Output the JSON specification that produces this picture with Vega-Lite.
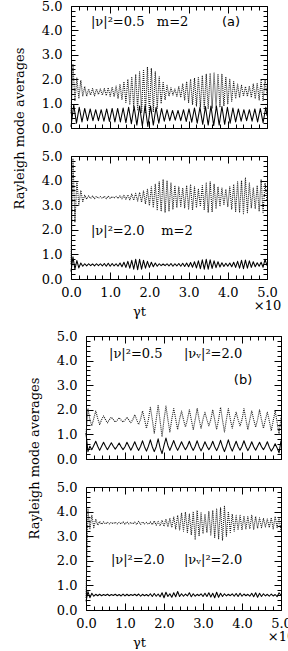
{
"$schema":"https://vega.github.io/schema/vega-lite/v6.json",
"autosize":{"type":"pad"},
"padding":{"left":13,"top":0,"right":0,"bottom":0},
"config":{"view":{"stroke":null},"font":"DejaVu Serif","axis":{"domainColor":"black","tickColor":"black","labelColor":"black","titleColor":"black","labelFont":"DejaVu Serif","titleFont":"DejaVu Serif","labelFontSize":13,"titleFontSize":13,"titleFontWeight":"normal","grid":false,"tickWidth":1,"domainWidth":1,"labelOverlap":false,"labelFlush":false,"labelBound":false},"text":{"font":"DejaVu Serif","fontSize":13,"color":"black"},"line":{"strokeJoin":"round"}},
"datasets":{
"a1":[{"t":0,"v":0.6},{"t":0.05,"v":2.6},{"t":0.1,"v":1.1},{"t":0.15,"v":2.05},{"t":0.2,"v":1.2},{"t":0.25,"v":1.95},{"t":0.3,"v":1.3},{"t":0.35,"v":1.7},{"t":0.4,"v":1.3},{"t":0.45,"v":1.6},{"t":0.5,"v":1.35},{"t":0.55,"v":1.62},{"t":0.6,"v":1.32},{"t":0.65,"v":1.6},{"t":0.7,"v":1.38},{"t":0.75,"v":1.6},{"t":0.8,"v":1.35},{"t":0.85,"v":1.62},{"t":0.9,"v":1.33},{"t":0.95,"v":1.65},{"t":1,"v":1.3},{"t":1.05,"v":1.68},{"t":1.1,"v":1.28},{"t":1.15,"v":1.72},{"t":1.2,"v":1.22},{"t":1.25,"v":1.8},{"t":1.3,"v":1.15},{"t":1.35,"v":1.9},{"t":1.4,"v":1.05},{"t":1.45,"v":2.0},{"t":1.5,"v":0.95},{"t":1.55,"v":2.1},{"t":1.6,"v":0.85},{"t":1.65,"v":2.2},{"t":1.7,"v":0.75},{"t":1.75,"v":2.3},{"t":1.8,"v":0.65},{"t":1.85,"v":2.4},{"t":1.9,"v":0.6},{"t":1.95,"v":2.5},{"t":2,"v":0.55},{"t":2.05,"v":2.45},{"t":2.1,"v":0.65},{"t":2.15,"v":2.3},{"t":2.2,"v":0.8},{"t":2.25,"v":2.1},{"t":2.3,"v":1.0},{"t":2.35,"v":1.9},{"t":2.4,"v":1.15},{"t":2.45,"v":1.75},{"t":2.5,"v":1.3},{"t":2.55,"v":1.65},{"t":2.6,"v":1.35},{"t":2.65,"v":1.6},{"t":2.7,"v":1.3},{"t":2.75,"v":1.7},{"t":2.8,"v":1.25},{"t":2.85,"v":1.8},{"t":2.9,"v":1.15},{"t":2.95,"v":1.9},{"t":3,"v":1.05},{"t":3.05,"v":2.0},{"t":3.1,"v":0.95},{"t":3.15,"v":2.05},{"t":3.2,"v":0.9},{"t":3.25,"v":2.1},{"t":3.3,"v":0.85},{"t":3.35,"v":2.15},{"t":3.4,"v":0.8},{"t":3.45,"v":2.2},{"t":3.5,"v":0.78},{"t":3.55,"v":2.25},{"t":3.6,"v":0.8},{"t":3.65,"v":2.25},{"t":3.7,"v":0.82},{"t":3.75,"v":2.22},{"t":3.8,"v":0.85},{"t":3.85,"v":2.2},{"t":3.9,"v":0.9},{"t":3.95,"v":2.1},{"t":4,"v":1.0},{"t":4.05,"v":2.0},{"t":4.1,"v":1.1},{"t":4.15,"v":1.9},{"t":4.2,"v":1.2},{"t":4.25,"v":1.8},{"t":4.3,"v":1.25},{"t":4.35,"v":1.75},{"t":4.4,"v":1.3},{"t":4.45,"v":1.7},{"t":4.5,"v":1.3},{"t":4.55,"v":1.72},{"t":4.6,"v":1.25},{"t":4.65,"v":1.8},{"t":4.7,"v":1.2},{"t":4.75,"v":1.85},{"t":4.8,"v":1.15},{"t":4.85,"v":1.95},{"t":4.9,"v":1.1},{"t":4.95,"v":2.0},{"t":5,"v":1.3}],
"a2":[{"t":0,"v":0.05},{"t":0.07,"v":0.95},{"t":0.14,"v":0.2},{"t":0.21,"v":0.85},{"t":0.28,"v":0.25},{"t":0.35,"v":0.8},{"t":0.42,"v":0.3},{"t":0.49,"v":0.78},{"t":0.56,"v":0.3},{"t":0.63,"v":0.75},{"t":0.7,"v":0.3},{"t":0.77,"v":0.75},{"t":0.84,"v":0.28},{"t":0.91,"v":0.78},{"t":0.98,"v":0.27},{"t":1.05,"v":0.8},{"t":1.12,"v":0.25},{"t":1.19,"v":0.8},{"t":1.26,"v":0.25},{"t":1.33,"v":0.82},{"t":1.4,"v":0.22},{"t":1.47,"v":0.85},{"t":1.54,"v":0.18},{"t":1.61,"v":0.88},{"t":1.68,"v":0.12},{"t":1.75,"v":0.9},{"t":1.82,"v":0.08},{"t":1.89,"v":0.92},{"t":1.96,"v":0.06},{"t":2.03,"v":0.9},{"t":2.1,"v":0.12},{"t":2.17,"v":0.85},{"t":2.24,"v":0.2},{"t":2.31,"v":0.8},{"t":2.38,"v":0.28},{"t":2.45,"v":0.75},{"t":2.52,"v":0.3},{"t":2.59,"v":0.72},{"t":2.66,"v":0.32},{"t":2.73,"v":0.72},{"t":2.8,"v":0.3},{"t":2.87,"v":0.75},{"t":2.94,"v":0.27},{"t":3.01,"v":0.78},{"t":3.08,"v":0.24},{"t":3.15,"v":0.82},{"t":3.22,"v":0.2},{"t":3.29,"v":0.85},{"t":3.36,"v":0.15},{"t":3.43,"v":0.88},{"t":3.5,"v":0.12},{"t":3.57,"v":0.9},{"t":3.64,"v":0.1},{"t":3.71,"v":0.9},{"t":3.78,"v":0.12},{"t":3.85,"v":0.88},{"t":3.92,"v":0.15},{"t":3.99,"v":0.85},{"t":4.06,"v":0.2},{"t":4.13,"v":0.82},{"t":4.2,"v":0.25},{"t":4.27,"v":0.78},{"t":4.34,"v":0.28},{"t":4.41,"v":0.75},{"t":4.48,"v":0.3},{"t":4.55,"v":0.75},{"t":4.62,"v":0.28},{"t":4.69,"v":0.78},{"t":4.76,"v":0.25},{"t":4.83,"v":0.8},{"t":4.9,"v":0.22},{"t":4.97,"v":0.85},{"t":5,"v":0.5}],
"b1":[{"t":0,"v":0.6},{"t":0.05,"v":4.9},{"t":0.1,"v":2.3},{"t":0.15,"v":4.0},{"t":0.2,"v":3.0},{"t":0.25,"v":3.6},{"t":0.3,"v":3.15},{"t":0.35,"v":3.4},{"t":0.4,"v":3.25},{"t":0.45,"v":3.38},{"t":0.5,"v":3.28},{"t":0.55,"v":3.37},{"t":0.6,"v":3.27},{"t":0.65,"v":3.36},{"t":0.7,"v":3.28},{"t":0.75,"v":3.35},{"t":0.8,"v":3.28},{"t":0.85,"v":3.36},{"t":0.9,"v":3.27},{"t":0.95,"v":3.37},{"t":1,"v":3.28},{"t":1.05,"v":3.35},{"t":1.1,"v":3.29},{"t":1.15,"v":3.36},{"t":1.2,"v":3.27},{"t":1.25,"v":3.38},{"t":1.3,"v":3.26},{"t":1.35,"v":3.4},{"t":1.4,"v":3.24},{"t":1.45,"v":3.42},{"t":1.5,"v":3.22},{"t":1.55,"v":3.45},{"t":1.6,"v":3.2},{"t":1.65,"v":3.48},{"t":1.7,"v":3.17},{"t":1.75,"v":3.52},{"t":1.8,"v":3.12},{"t":1.85,"v":3.58},{"t":1.9,"v":3.05},{"t":1.95,"v":3.65},{"t":2,"v":2.98},{"t":2.05,"v":3.75},{"t":2.1,"v":2.9},{"t":2.15,"v":3.85},{"t":2.2,"v":2.82},{"t":2.25,"v":3.95},{"t":2.3,"v":2.75},{"t":2.35,"v":4.05},{"t":2.4,"v":2.7},{"t":2.45,"v":4.0},{"t":2.5,"v":2.75},{"t":2.55,"v":3.9},{"t":2.6,"v":2.85},{"t":2.65,"v":3.8},{"t":2.7,"v":2.9},{"t":2.75,"v":3.75},{"t":2.8,"v":2.95},{"t":2.85,"v":3.7},{"t":2.9,"v":2.9},{"t":2.95,"v":3.8},{"t":3,"v":2.85},{"t":3.05,"v":3.85},{"t":3.1,"v":2.8},{"t":3.15,"v":3.75},{"t":3.2,"v":2.9},{"t":3.25,"v":3.65},{"t":3.3,"v":2.95},{"t":3.35,"v":3.8},{"t":3.4,"v":2.8},{"t":3.45,"v":3.9},{"t":3.5,"v":2.7},{"t":3.55,"v":3.95},{"t":3.6,"v":2.72},{"t":3.65,"v":3.85},{"t":3.7,"v":2.85},{"t":3.75,"v":3.75},{"t":3.8,"v":2.95},{"t":3.85,"v":3.7},{"t":3.9,"v":3.0},{"t":3.95,"v":3.65},{"t":4,"v":2.95},{"t":4.05,"v":3.75},{"t":4.1,"v":2.85},{"t":4.15,"v":3.85},{"t":4.2,"v":2.75},{"t":4.25,"v":3.95},{"t":4.3,"v":2.7},{"t":4.35,"v":4.0},{"t":4.4,"v":2.65},{"t":4.45,"v":4.1},{"t":4.5,"v":2.7},{"t":4.55,"v":3.9},{"t":4.6,"v":2.9},{"t":4.65,"v":3.7},{"t":4.7,"v":2.85},{"t":4.75,"v":3.8},{"t":4.8,"v":2.75},{"t":4.85,"v":4.05},{"t":4.9,"v":2.7},{"t":4.95,"v":3.9},{"t":5,"v":3.2}],
"b2":[{"t":0,"v":0.3},{"t":0.05,"v":0.9},{"t":0.1,"v":0.4},{"t":0.15,"v":0.75},{"t":0.2,"v":0.45},{"t":0.25,"v":0.65},{"t":0.3,"v":0.52},{"t":0.35,"v":0.62},{"t":0.4,"v":0.53},{"t":0.45,"v":0.62},{"t":0.5,"v":0.54},{"t":0.55,"v":0.61},{"t":0.6,"v":0.53},{"t":0.65,"v":0.62},{"t":0.7,"v":0.54},{"t":0.75,"v":0.62},{"t":0.8,"v":0.53},{"t":0.85,"v":0.63},{"t":0.9,"v":0.52},{"t":0.95,"v":0.64},{"t":1,"v":0.52},{"t":1.05,"v":0.63},{"t":1.1,"v":0.53},{"t":1.15,"v":0.62},{"t":1.2,"v":0.52},{"t":1.25,"v":0.65},{"t":1.3,"v":0.5},{"t":1.35,"v":0.68},{"t":1.4,"v":0.47},{"t":1.45,"v":0.72},{"t":1.5,"v":0.44},{"t":1.55,"v":0.76},{"t":1.6,"v":0.4},{"t":1.65,"v":0.8},{"t":1.7,"v":0.38},{"t":1.75,"v":0.8},{"t":1.8,"v":0.4},{"t":1.85,"v":0.76},{"t":1.9,"v":0.44},{"t":1.95,"v":0.72},{"t":2,"v":0.47},{"t":2.05,"v":0.68},{"t":2.1,"v":0.5},{"t":2.15,"v":0.65},{"t":2.2,"v":0.52},{"t":2.25,"v":0.62},{"t":2.3,"v":0.54},{"t":2.35,"v":0.61},{"t":2.4,"v":0.54},{"t":2.45,"v":0.62},{"t":2.5,"v":0.53},{"t":2.55,"v":0.63},{"t":2.6,"v":0.52},{"t":2.65,"v":0.62},{"t":2.7,"v":0.53},{"t":2.75,"v":0.63},{"t":2.8,"v":0.52},{"t":2.85,"v":0.64},{"t":2.9,"v":0.51},{"t":2.95,"v":0.65},{"t":3,"v":0.5},{"t":3.05,"v":0.67},{"t":3.1,"v":0.48},{"t":3.15,"v":0.7},{"t":3.2,"v":0.45},{"t":3.25,"v":0.74},{"t":3.3,"v":0.42},{"t":3.35,"v":0.78},{"t":3.4,"v":0.4},{"t":3.45,"v":0.8},{"t":3.5,"v":0.4},{"t":3.55,"v":0.78},{"t":3.6,"v":0.43},{"t":3.65,"v":0.74},{"t":3.7,"v":0.46},{"t":3.75,"v":0.7},{"t":3.8,"v":0.49},{"t":3.85,"v":0.66},{"t":3.9,"v":0.51},{"t":3.95,"v":0.64},{"t":4,"v":0.52},{"t":4.05,"v":0.65},{"t":4.1,"v":0.5},{"t":4.15,"v":0.68},{"t":4.2,"v":0.47},{"t":4.25,"v":0.72},{"t":4.3,"v":0.44},{"t":4.35,"v":0.76},{"t":4.4,"v":0.42},{"t":4.45,"v":0.77},{"t":4.5,"v":0.44},{"t":4.55,"v":0.74},{"t":4.6,"v":0.47},{"t":4.65,"v":0.7},{"t":4.7,"v":0.5},{"t":4.75,"v":0.66},{"t":4.8,"v":0.52},{"t":4.85,"v":0.68},{"t":4.9,"v":0.48},{"t":4.95,"v":0.8},{"t":5,"v":0.55}],
"c1":[{"t":0,"v":1.0},{"t":0.05,"v":2.05},{"t":0.1,"v":1.6},{"t":0.15,"v":1.35},{"t":0.2,"v":1.65},{"t":0.25,"v":1.95},{"t":0.3,"v":1.65},{"t":0.35,"v":1.4},{"t":0.4,"v":1.6},{"t":0.45,"v":1.75},{"t":0.5,"v":1.6},{"t":0.55,"v":1.47},{"t":0.6,"v":1.6},{"t":0.65,"v":1.7},{"t":0.7,"v":1.6},{"t":0.75,"v":1.5},{"t":0.8,"v":1.58},{"t":0.85,"v":1.68},{"t":0.9,"v":1.58},{"t":0.95,"v":1.5},{"t":1,"v":1.58},{"t":1.05,"v":1.7},{"t":1.1,"v":1.58},{"t":1.15,"v":1.48},{"t":1.2,"v":1.6},{"t":1.25,"v":1.8},{"t":1.3,"v":1.6},{"t":1.35,"v":1.4},{"t":1.4,"v":1.62},{"t":1.45,"v":1.95},{"t":1.5,"v":1.62},{"t":1.55,"v":1.25},{"t":1.6,"v":1.6},{"t":1.65,"v":2.1},{"t":1.7,"v":1.6},{"t":1.75,"v":1.05},{"t":1.8,"v":1.6},{"t":1.85,"v":2.2},{"t":1.9,"v":1.55},{"t":1.95,"v":0.9},{"t":2,"v":1.6},{"t":2.05,"v":2.15},{"t":2.1,"v":1.6},{"t":2.15,"v":1.1},{"t":2.2,"v":1.62},{"t":2.25,"v":2.05},{"t":2.3,"v":1.62},{"t":2.35,"v":1.2},{"t":2.4,"v":1.62},{"t":2.45,"v":1.95},{"t":2.5,"v":1.6},{"t":2.55,"v":1.3},{"t":2.6,"v":1.6},{"t":2.65,"v":2.0},{"t":2.7,"v":1.6},{"t":2.75,"v":1.2},{"t":2.8,"v":1.6},{"t":2.85,"v":2.05},{"t":2.9,"v":1.62},{"t":2.95,"v":1.25},{"t":3,"v":1.62},{"t":3.05,"v":1.9},{"t":3.1,"v":1.6},{"t":3.15,"v":1.35},{"t":3.2,"v":1.6},{"t":3.25,"v":2.0},{"t":3.3,"v":1.6},{"t":3.35,"v":1.2},{"t":3.4,"v":1.6},{"t":3.45,"v":2.1},{"t":3.5,"v":1.58},{"t":3.55,"v":1.1},{"t":3.6,"v":1.6},{"t":3.65,"v":2.05},{"t":3.7,"v":1.62},{"t":3.75,"v":1.25},{"t":3.8,"v":1.62},{"t":3.85,"v":1.9},{"t":3.9,"v":1.6},{"t":3.95,"v":1.35},{"t":4,"v":1.6},{"t":4.05,"v":2.05},{"t":4.1,"v":1.6},{"t":4.15,"v":1.2},{"t":4.2,"v":1.6},{"t":4.25,"v":1.95},{"t":4.3,"v":1.6},{"t":4.35,"v":1.3},{"t":4.4,"v":1.6},{"t":4.45,"v":2.0},{"t":4.5,"v":1.6},{"t":4.55,"v":1.25},{"t":4.6,"v":1.6},{"t":4.65,"v":1.9},{"t":4.7,"v":1.55},{"t":4.75,"v":1.15},{"t":4.8,"v":1.55},{"t":4.85,"v":1.95},{"t":4.9,"v":1.5},{"t":4.95,"v":1.0},{"t":5,"v":1.7}],
"c2":[{"t":0,"v":1.05},{"t":0.05,"v":0.3},{"t":0.1,"v":0.52},{"t":0.15,"v":0.38},{"t":0.2,"v":0.55},{"t":0.25,"v":0.72},{"t":0.3,"v":0.52},{"t":0.35,"v":0.35},{"t":0.4,"v":0.52},{"t":0.45,"v":0.68},{"t":0.5,"v":0.52},{"t":0.55,"v":0.38},{"t":0.6,"v":0.52},{"t":0.65,"v":0.66},{"t":0.7,"v":0.52},{"t":0.75,"v":0.4},{"t":0.8,"v":0.52},{"t":0.85,"v":0.65},{"t":0.9,"v":0.5},{"t":0.95,"v":0.38},{"t":1,"v":0.5},{"t":1.05,"v":0.68},{"t":1.1,"v":0.52},{"t":1.15,"v":0.36},{"t":1.2,"v":0.52},{"t":1.25,"v":0.7},{"t":1.3,"v":0.5},{"t":1.35,"v":0.35},{"t":1.4,"v":0.52},{"t":1.45,"v":0.74},{"t":1.5,"v":0.5},{"t":1.55,"v":0.32},{"t":1.6,"v":0.52},{"t":1.65,"v":0.78},{"t":1.7,"v":0.5},{"t":1.75,"v":0.3},{"t":1.8,"v":0.5},{"t":1.85,"v":0.82},{"t":1.9,"v":0.45},{"t":1.95,"v":0.22},{"t":2,"v":0.55},{"t":2.05,"v":0.85},{"t":2.1,"v":0.55},{"t":2.15,"v":0.35},{"t":2.2,"v":0.55},{"t":2.25,"v":0.75},{"t":2.3,"v":0.52},{"t":2.35,"v":0.35},{"t":2.4,"v":0.52},{"t":2.45,"v":0.7},{"t":2.5,"v":0.52},{"t":2.55,"v":0.38},{"t":2.6,"v":0.52},{"t":2.65,"v":0.72},{"t":2.7,"v":0.5},{"t":2.75,"v":0.35},{"t":2.8,"v":0.52},{"t":2.85,"v":0.74},{"t":2.9,"v":0.5},{"t":2.95,"v":0.33},{"t":3,"v":0.5},{"t":3.05,"v":0.7},{"t":3.1,"v":0.52},{"t":3.15,"v":0.38},{"t":3.2,"v":0.52},{"t":3.25,"v":0.72},{"t":3.3,"v":0.5},{"t":3.35,"v":0.34},{"t":3.4,"v":0.52},{"t":3.45,"v":0.76},{"t":3.5,"v":0.5},{"t":3.55,"v":0.3},{"t":3.6,"v":0.52},{"t":3.65,"v":0.78},{"t":3.7,"v":0.5},{"t":3.75,"v":0.32},{"t":3.8,"v":0.52},{"t":3.85,"v":0.72},{"t":3.9,"v":0.5},{"t":3.95,"v":0.36},{"t":4,"v":0.52},{"t":4.05,"v":0.74},{"t":4.1,"v":0.52},{"t":4.15,"v":0.34},{"t":4.2,"v":0.5},{"t":4.25,"v":0.7},{"t":4.3,"v":0.5},{"t":4.35,"v":0.36},{"t":4.4,"v":0.52},{"t":4.45,"v":0.68},{"t":4.5,"v":0.5},{"t":4.55,"v":0.38},{"t":4.6,"v":0.52},{"t":4.65,"v":0.7},{"t":4.7,"v":0.48},{"t":4.75,"v":0.32},{"t":4.8,"v":0.45},{"t":4.85,"v":0.62},{"t":4.9,"v":0.45},{"t":4.95,"v":0.25},{"t":5,"v":0.75}],
"d1":[{"t":0,"v":0.5},{"t":0.05,"v":4.1},{"t":0.1,"v":3.3},{"t":0.15,"v":3.85},{"t":0.2,"v":3.35},{"t":0.25,"v":3.7},{"t":0.3,"v":3.45},{"t":0.35,"v":3.6},{"t":0.4,"v":3.48},{"t":0.45,"v":3.58},{"t":0.5,"v":3.5},{"t":0.55,"v":3.57},{"t":0.6,"v":3.5},{"t":0.65,"v":3.56},{"t":0.7,"v":3.51},{"t":0.75,"v":3.57},{"t":0.8,"v":3.5},{"t":0.85,"v":3.56},{"t":0.9,"v":3.5},{"t":0.95,"v":3.58},{"t":1,"v":3.49},{"t":1.05,"v":3.58},{"t":1.1,"v":3.5},{"t":1.15,"v":3.56},{"t":1.2,"v":3.5},{"t":1.25,"v":3.57},{"t":1.3,"v":3.48},{"t":1.35,"v":3.6},{"t":1.4,"v":3.48},{"t":1.45,"v":3.58},{"t":1.5,"v":3.5},{"t":1.55,"v":3.56},{"t":1.6,"v":3.49},{"t":1.65,"v":3.58},{"t":1.7,"v":3.47},{"t":1.75,"v":3.62},{"t":1.8,"v":3.45},{"t":1.85,"v":3.6},{"t":1.9,"v":3.42},{"t":1.95,"v":3.65},{"t":2,"v":3.4},{"t":2.05,"v":3.7},{"t":2.1,"v":3.38},{"t":2.15,"v":3.72},{"t":2.2,"v":3.35},{"t":2.25,"v":3.78},{"t":2.3,"v":3.3},{"t":2.35,"v":3.85},{"t":2.4,"v":3.25},{"t":2.45,"v":3.95},{"t":2.5,"v":3.2},{"t":2.55,"v":3.98},{"t":2.6,"v":3.15},{"t":2.65,"v":3.9},{"t":2.7,"v":3.05},{"t":2.75,"v":4.0},{"t":2.8,"v":2.85},{"t":2.85,"v":4.05},{"t":2.9,"v":3.0},{"t":2.95,"v":3.95},{"t":3,"v":3.1},{"t":3.05,"v":3.9},{"t":3.1,"v":3.15},{"t":3.15,"v":4.0},{"t":3.2,"v":3.05},{"t":3.25,"v":4.05},{"t":3.3,"v":2.95},{"t":3.35,"v":4.1},{"t":3.4,"v":2.9},{"t":3.45,"v":4.15},{"t":3.5,"v":2.85},{"t":3.55,"v":4.22},{"t":3.6,"v":3.0},{"t":3.65,"v":4.0},{"t":3.7,"v":3.15},{"t":3.75,"v":3.9},{"t":3.8,"v":3.2},{"t":3.85,"v":3.85},{"t":3.9,"v":3.25},{"t":3.95,"v":3.85},{"t":4,"v":3.25},{"t":4.05,"v":3.82},{"t":4.1,"v":3.3},{"t":4.15,"v":3.8},{"t":4.2,"v":3.3},{"t":4.25,"v":3.85},{"t":4.3,"v":3.28},{"t":4.35,"v":3.8},{"t":4.4,"v":3.32},{"t":4.45,"v":3.75},{"t":4.5,"v":3.35},{"t":4.55,"v":3.72},{"t":4.6,"v":3.38},{"t":4.65,"v":3.7},{"t":4.7,"v":3.35},{"t":4.75,"v":3.75},{"t":4.8,"v":3.3},{"t":4.85,"v":3.8},{"t":4.9,"v":3.35},{"t":4.95,"v":3.75},{"t":5,"v":3.2}],
"d2":[{"t":0,"v":0.35},{"t":0.05,"v":0.75},{"t":0.1,"v":0.5},{"t":0.15,"v":0.68},{"t":0.2,"v":0.56},{"t":0.25,"v":0.64},{"t":0.3,"v":0.58},{"t":0.35,"v":0.64},{"t":0.4,"v":0.58},{"t":0.45,"v":0.63},{"t":0.5,"v":0.59},{"t":0.55,"v":0.64},{"t":0.6,"v":0.58},{"t":0.65,"v":0.63},{"t":0.7,"v":0.59},{"t":0.75,"v":0.64},{"t":0.8,"v":0.58},{"t":0.85,"v":0.63},{"t":0.9,"v":0.57},{"t":0.95,"v":0.65},{"t":1,"v":0.57},{"t":1.05,"v":0.64},{"t":1.1,"v":0.58},{"t":1.15,"v":0.63},{"t":1.2,"v":0.59},{"t":1.25,"v":0.64},{"t":1.3,"v":0.58},{"t":1.35,"v":0.65},{"t":1.4,"v":0.56},{"t":1.45,"v":0.64},{"t":1.5,"v":0.58},{"t":1.55,"v":0.63},{"t":1.6,"v":0.57},{"t":1.65,"v":0.66},{"t":1.7,"v":0.55},{"t":1.75,"v":0.67},{"t":1.8,"v":0.56},{"t":1.85,"v":0.65},{"t":1.9,"v":0.54},{"t":1.95,"v":0.7},{"t":2,"v":0.5},{"t":2.05,"v":0.72},{"t":2.1,"v":0.55},{"t":2.15,"v":0.66},{"t":2.2,"v":0.52},{"t":2.25,"v":0.7},{"t":2.3,"v":0.54},{"t":2.35,"v":0.75},{"t":2.4,"v":0.55},{"t":2.45,"v":0.66},{"t":2.5,"v":0.56},{"t":2.55,"v":0.65},{"t":2.6,"v":0.57},{"t":2.65,"v":0.7},{"t":2.7,"v":0.54},{"t":2.75,"v":0.66},{"t":2.8,"v":0.56},{"t":2.85,"v":0.64},{"t":2.9,"v":0.58},{"t":2.95,"v":0.66},{"t":3,"v":0.55},{"t":3.05,"v":0.68},{"t":3.1,"v":0.55},{"t":3.15,"v":0.7},{"t":3.2,"v":0.53},{"t":3.25,"v":0.68},{"t":3.3,"v":0.5},{"t":3.35,"v":0.72},{"t":3.4,"v":0.52},{"t":3.45,"v":0.68},{"t":3.5,"v":0.55},{"t":3.55,"v":0.66},{"t":3.6,"v":0.57},{"t":3.65,"v":0.64},{"t":3.7,"v":0.58},{"t":3.75,"v":0.66},{"t":3.8,"v":0.56},{"t":3.85,"v":0.67},{"t":3.9,"v":0.55},{"t":3.95,"v":0.68},{"t":4,"v":0.56},{"t":4.05,"v":0.65},{"t":4.1,"v":0.58},{"t":4.15,"v":0.64},{"t":4.2,"v":0.56},{"t":4.25,"v":0.68},{"t":4.3,"v":0.54},{"t":4.35,"v":0.7},{"t":4.4,"v":0.52},{"t":4.45,"v":0.68},{"t":4.5,"v":0.55},{"t":4.55,"v":0.66},{"t":4.6,"v":0.57},{"t":4.65,"v":0.64},{"t":4.7,"v":0.56},{"t":4.75,"v":0.65},{"t":4.8,"v":0.57},{"t":4.85,"v":0.63},{"t":4.9,"v":0.54},{"t":4.95,"v":0.7},{"t":5,"v":0.6}]
},
"spacing":12,
"vconcat":[
{"vconcat":[
{"width":196,"height":122,
"layer":[
{"data":{"name":"a1"},"mark":{"type":"line","strokeDash":[1,1],"strokeWidth":1.1,"color":"#1a1a1a"},
"encoding":{"x":{"field":"t","type":"quantitative","scale":{"domain":[0,5],"nice":false},"axis":{"orient":"bottom","values":[0,0.2,0.4,0.6,0.8,1,1.2,1.4,1.6,1.8,2,2.2,2.4,2.6,2.8,3,3.2,3.4,3.6,3.8,4,4.2,4.4,4.6,4.8,5],"tickSize":{"condition":{"test":"datum.value % 1 === 0","value":-7},"value":-4},"labels":false,"title":null}},
"y":{"field":"v","type":"quantitative","scale":{"domain":[0,5],"nice":false},"axis":{"orient":"left","values":[0,0.2,0.4,0.6,0.8,1,1.2,1.4,1.6,1.8,2,2.2,2.4,2.6,2.8,3,3.2,3.4,3.6,3.8,4,4.2,4.4,4.6,4.8,5],"tickSize":{"condition":{"test":"datum.value % 1 === 0","value":-7},"value":-4},"labelExpr":"datum.value % 1 === 0 ? format(datum.value, '.1f') : ''","labelPadding":16,"title":"Rayleigh mode averages","titleAngle":270,"titleX":-52,"titleY":122,"titleAlign":"center","titleBaseline":"middle"}}}},
{"data":{"name":"a2"},"mark":{"type":"line","strokeWidth":1.05,"color":"black"},
"encoding":{"x":{"field":"t","type":"quantitative","axis":{"orient":"top","values":[0,0.2,0.4,0.6,0.8,1,1.2,1.4,1.6,1.8,2,2.2,2.4,2.6,2.8,3,3.2,3.4,3.6,3.8,4,4.2,4.4,4.6,4.8,5],"tickSize":{"condition":{"test":"datum.value % 1 === 0","value":-7},"value":-4},"labels":false,"title":null}},
"y":{"field":"v","type":"quantitative","axis":{"orient":"right","values":[0,0.2,0.4,0.6,0.8,1,1.2,1.4,1.6,1.8,2,2.2,2.4,2.6,2.8,3,3.2,3.4,3.6,3.8,4,4.2,4.4,4.6,4.8,5],"tickSize":{"condition":{"test":"datum.value % 1 === 0","value":-7},"value":-4},"labels":false,"title":null}}}},
{"data":{"values":[{}]},"mark":{"type":"text","align":"left","baseline":"middle"},"encoding":{"x":{"datum":0.51,"axis":null},"y":{"datum":4.34,"axis":null},"text":{"value":"|ν|²=0.5"}}},
{"data":{"values":[{}]},"mark":{"type":"text","align":"left","baseline":"middle"},"encoding":{"x":{"datum":2.19,"axis":null},"y":{"datum":4.34,"axis":null},"text":{"value":"m=2"}}},
{"data":{"values":[{}]},"mark":{"type":"text","align":"left","baseline":"middle","font":"DejaVu Sans"},"encoding":{"x":{"datum":3.85,"axis":null},"y":{"datum":4.34,"axis":null},"text":{"value":"(a)"}}}
],
"resolve":{"axis":{"x":"independent","y":"independent"}}},
{"width":196,"height":123,
"layer":[
{"data":{"name":"b1"},"mark":{"type":"line","strokeDash":[1,1],"strokeWidth":1.1,"color":"#1a1a1a"},
"encoding":{"x":{"field":"t","type":"quantitative","scale":{"domain":[0,5],"nice":false},"axis":{"orient":"bottom","values":[0,0.2,0.4,0.6,0.8,1,1.2,1.4,1.6,1.8,2,2.2,2.4,2.6,2.8,3,3.2,3.4,3.6,3.8,4,4.2,4.4,4.6,4.8,5],"tickSize":{"condition":{"test":"datum.value % 1 === 0","value":-7},"value":-4},"labelExpr":"datum.value === 5 ? ['5.0','×10'] : (datum.value % 1 === 0 ? format(datum.value, '.1f') : '')","labelPadding":14,"labelLineHeight":13,"title":"γt","titleX":68,"titleY":32,"titleAlign":"center","titleBaseline":"middle"}},
"y":{"field":"v","type":"quantitative","scale":{"domain":[0,5],"nice":false},"axis":{"orient":"left","values":[0,0.2,0.4,0.6,0.8,1,1.2,1.4,1.6,1.8,2,2.2,2.4,2.6,2.8,3,3.2,3.4,3.6,3.8,4,4.2,4.4,4.6,4.8,5],"tickSize":{"condition":{"test":"datum.value % 1 === 0","value":-7},"value":-4},"labelExpr":"datum.value % 1 === 0 ? format(datum.value, '.1f') : ''","labelPadding":16,"title":null}}}},
{"data":{"name":"b2"},"mark":{"type":"line","strokeWidth":1.05,"color":"black"},
"encoding":{"x":{"field":"t","type":"quantitative","axis":{"orient":"top","values":[0,0.2,0.4,0.6,0.8,1,1.2,1.4,1.6,1.8,2,2.2,2.4,2.6,2.8,3,3.2,3.4,3.6,3.8,4,4.2,4.4,4.6,4.8,5],"tickSize":{"condition":{"test":"datum.value % 1 === 0","value":-7},"value":-4},"labels":false,"title":null}},
"y":{"field":"v","type":"quantitative","axis":{"orient":"right","values":[0,0.2,0.4,0.6,0.8,1,1.2,1.4,1.6,1.8,2,2.2,2.4,2.6,2.8,3,3.2,3.4,3.6,3.8,4,4.2,4.4,4.6,4.8,5],"tickSize":{"condition":{"test":"datum.value % 1 === 0","value":-7},"value":-4},"labels":false,"title":null}}}},
{"data":{"values":[{}]},"mark":{"type":"text","align":"left","baseline":"middle"},"encoding":{"x":{"datum":0.51,"axis":null},"y":{"datum":1.97,"axis":null},"text":{"value":"|ν|²=2.0"}}},
{"data":{"values":[{}]},"mark":{"type":"text","align":"left","baseline":"middle"},"encoding":{"x":{"datum":2.3,"axis":null},"y":{"datum":1.97,"axis":null},"text":{"value":"m=2"}}}
],
"resolve":{"axis":{"x":"independent","y":"independent"}}}
],"spacing":28,"bounds":"flush"},
{"hconcat":[
{"width":1,"height":1,"data":{"values":[]},"mark":"point","view":{"stroke":null}},
{"vconcat":[
{"width":195,"height":123,
"layer":[
{"data":{"name":"c1"},"mark":{"type":"line","strokeDash":[1,1],"strokeWidth":1.1,"color":"#1a1a1a"},
"encoding":{"x":{"field":"t","type":"quantitative","scale":{"domain":[0,5],"nice":false},"axis":{"orient":"bottom","values":[0,0.2,0.4,0.6,0.8,1,1.2,1.4,1.6,1.8,2,2.2,2.4,2.6,2.8,3,3.2,3.4,3.6,3.8,4,4.2,4.4,4.6,4.8,5],"tickSize":{"condition":{"test":"datum.value % 1 === 0","value":-7},"value":-4},"labels":false,"title":null}},
"y":{"field":"v","type":"quantitative","scale":{"domain":[0,5],"nice":false},"axis":{"orient":"left","values":[0,0.2,0.4,0.6,0.8,1,1.2,1.4,1.6,1.8,2,2.2,2.4,2.6,2.8,3,3.2,3.4,3.6,3.8,4,4.2,4.4,4.6,4.8,5],"tickSize":{"condition":{"test":"datum.value % 1 === 0","value":-7},"value":-4},"labelExpr":"datum.value % 1 === 0 ? format(datum.value, '.1f') : ''","labelPadding":16,"title":"Rayleigh mode averages","titleAngle":270,"titleX":-52,"titleY":122,"titleAlign":"center","titleBaseline":"middle"}}}},
{"data":{"name":"c2"},"mark":{"type":"line","strokeWidth":1.05,"color":"black"},
"encoding":{"x":{"field":"t","type":"quantitative","axis":{"orient":"top","values":[0,0.2,0.4,0.6,0.8,1,1.2,1.4,1.6,1.8,2,2.2,2.4,2.6,2.8,3,3.2,3.4,3.6,3.8,4,4.2,4.4,4.6,4.8,5],"tickSize":{"condition":{"test":"datum.value % 1 === 0","value":-7},"value":-4},"labels":false,"title":null}},
"y":{"field":"v","type":"quantitative","axis":{"orient":"right","values":[0,0.2,0.4,0.6,0.8,1,1.2,1.4,1.6,1.8,2,2.2,2.4,2.6,2.8,3,3.2,3.4,3.6,3.8,4,4.2,4.4,4.6,4.8,5],"tickSize":{"condition":{"test":"datum.value % 1 === 0","value":-7},"value":-4},"labels":false,"title":null}}}},
{"data":{"values":[{}]},"mark":{"type":"text","align":"left","baseline":"middle"},"encoding":{"x":{"datum":0.59,"axis":null},"y":{"datum":4.27,"axis":null},"text":{"value":"|ν|²=0.5"}}},
{"data":{"values":[{}]},"mark":{"type":"text","align":"left","baseline":"middle"},"encoding":{"x":{"datum":2.51,"axis":null},"y":{"datum":4.27,"axis":null},"text":{"value":"|νᵥ|²=2.0"}}},
{"data":{"values":[{}]},"mark":{"type":"text","align":"left","baseline":"middle","font":"DejaVu Sans"},"encoding":{"x":{"datum":3.79,"axis":null},"y":{"datum":3.21,"axis":null},"text":{"value":"(b)"}}}
],
"resolve":{"axis":{"x":"independent","y":"independent"}}},
{"width":195,"height":123,
"layer":[
{"data":{"name":"d1"},"mark":{"type":"line","strokeDash":[1,1],"strokeWidth":1.1,"color":"#1a1a1a"},
"encoding":{"x":{"field":"t","type":"quantitative","scale":{"domain":[0,5],"nice":false},"axis":{"orient":"bottom","values":[0,0.2,0.4,0.6,0.8,1,1.2,1.4,1.6,1.8,2,2.2,2.4,2.6,2.8,3,3.2,3.4,3.6,3.8,4,4.2,4.4,4.6,4.8,5],"tickSize":{"condition":{"test":"datum.value % 1 === 0","value":-7},"value":-4},"labelExpr":"datum.value === 5 ? ['5.0','×10'] : (datum.value % 1 === 0 ? format(datum.value, '.1f') : '')","labelPadding":14,"labelLineHeight":13,"title":"γt","titleX":53,"titleY":32,"titleAlign":"center","titleBaseline":"middle"}},
"y":{"field":"v","type":"quantitative","scale":{"domain":[0,5],"nice":false},"axis":{"orient":"left","values":[0,0.2,0.4,0.6,0.8,1,1.2,1.4,1.6,1.8,2,2.2,2.4,2.6,2.8,3,3.2,3.4,3.6,3.8,4,4.2,4.4,4.6,4.8,5],"tickSize":{"condition":{"test":"datum.value % 1 === 0","value":-7},"value":-4},"labelExpr":"datum.value % 1 === 0 ? format(datum.value, '.1f') : ''","labelPadding":16,"title":null}}}},
{"data":{"name":"d2"},"mark":{"type":"line","strokeWidth":1.05,"color":"black"},
"encoding":{"x":{"field":"t","type":"quantitative","axis":{"orient":"top","values":[0,0.2,0.4,0.6,0.8,1,1.2,1.4,1.6,1.8,2,2.2,2.4,2.6,2.8,3,3.2,3.4,3.6,3.8,4,4.2,4.4,4.6,4.8,5],"tickSize":{"condition":{"test":"datum.value % 1 === 0","value":-7},"value":-4},"labels":false,"title":null}},
"y":{"field":"v","type":"quantitative","axis":{"orient":"right","values":[0,0.2,0.4,0.6,0.8,1,1.2,1.4,1.6,1.8,2,2.2,2.4,2.6,2.8,3,3.2,3.4,3.6,3.8,4,4.2,4.4,4.6,4.8,5],"tickSize":{"condition":{"test":"datum.value % 1 === 0","value":-7},"value":-4},"labels":false,"title":null}}}},
{"data":{"values":[{}]},"mark":{"type":"text","align":"left","baseline":"middle"},"encoding":{"x":{"datum":0.64,"axis":null},"y":{"datum":2.03,"axis":null},"text":{"value":"|ν|²=2.0"}}},
{"data":{"values":[{}]},"mark":{"type":"text","align":"left","baseline":"middle"},"encoding":{"x":{"datum":2.51,"axis":null},"y":{"datum":2.03,"axis":null},"text":{"value":"|νᵥ|²=2.0"}}}
],
"resolve":{"axis":{"x":"independent","y":"independent"}}}
],"spacing":28,"bounds":"flush"}
],"spacing":14,"bounds":"flush"}
]
}
